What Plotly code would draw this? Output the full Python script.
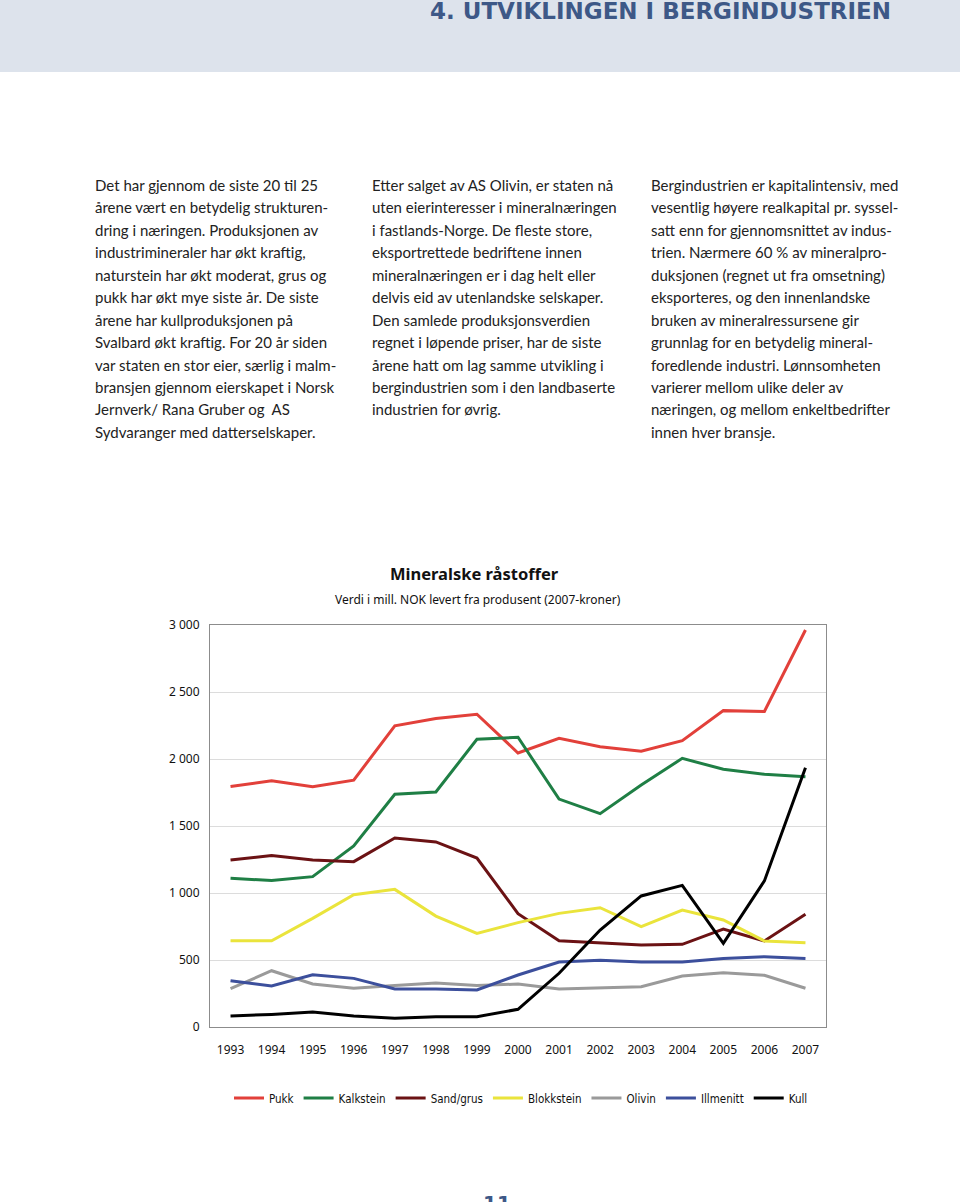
import plotly.graph_objects as go

W, H = 960, 1202

years = [str(y) for y in range(1993, 2008)]
pukk = [1795, 1838, 1793, 1842, 2248, 2303, 2334, 2045, 2155, 2092, 2058, 2137, 2361, 2355, 2963]
kalkstein = [1110, 1093, 1122, 1351, 1737, 1754, 2147, 2162, 1701, 1592, 1806, 2005, 1923, 1886, 1868]
sand_grus = [1246, 1279, 1246, 1234, 1410, 1381, 1261, 846, 644, 629, 612, 617, 731, 642, 841]
blokkstein = [644, 644, 811, 987, 1027, 828, 699, 779, 848, 890, 749, 873, 799, 642, 629]
olivin = [286, 420, 321, 289, 309, 328, 309, 321, 284, 291, 301, 381, 405, 386, 289]
illmenitt = [346, 306, 390, 363, 284, 284, 276, 388, 485, 498, 485, 485, 512, 525, 512]
kull = [82, 94, 112, 82, 65, 77, 77, 132, 401, 724, 978, 1057, 624, 1090, 1935]

series_names = ["Pukk", "Kalkstein", "Sand/grus", "Blokkstein", "Olivin", "Illmenitt", "Kull"]
series_values = [pukk, kalkstein, sand_grus, blokkstein, olivin, illmenitt, kull]
series_colors = ["#e2403a", "#1f7f45", "#6b1214", "#eae43c", "#9a9a9a", "#3c4f9c", "#000000"]

y_tickvals = [0, 500, 1000, 1500, 2000, 2500, 3000]
y_ticktext = ["0", "500", "1 000", "1 500", "2 000", "2 500", "3 000"]

col1 = [
    "Det har gjennom de siste 20 til 25",
    "årene vært en betydelig strukturen-",
    "dring i næringen. Produksjonen av",
    "industrimineraler har økt kraftig,",
    "naturstein har økt moderat, grus og",
    "pukk har økt mye siste år. De siste",
    "årene har kullproduksjonen på",
    "Svalbard økt kraftig. For 20 år siden",
    "var staten en stor eier, særlig i malm-",
    "bransjen gjennom eierskapet i Norsk",
    "Jernverk/ Rana Gruber og  AS",
    "Sydvaranger med datterselskaper.",
]
col2 = [
    "Etter salget av AS Olivin, er staten nå",
    "uten eierinteresser i mineralnæringen",
    "i fastlands-Norge. De fleste store,",
    "eksportrettede bedriftene innen",
    "mineralnæringen er i dag helt eller",
    "delvis eid av utenlandske selskaper.",
    "Den samlede produksjonsverdien",
    "regnet i løpende priser, har de siste",
    "årene hatt om lag samme utvikling i",
    "bergindustrien som i den landbaserte",
    "industrien for øvrig.",
]
col3 = [
    "Bergindustrien er kapitalintensiv, med",
    "vesentlig høyere realkapital pr. syssel-",
    "satt enn for gjennomsnittet av indus-",
    "trien. Nærmere 60 % av mineralpro-",
    "duksjonen (regnet ut fra omsetning)",
    "eksporteres, og den innenlandske",
    "bruken av mineralressursene gir",
    "grunnlag for en betydelig mineral-",
    "foredlende industri. Lønnsomheten",
    "varierer mellom ulike deler av",
    "næringen, og mellom enkeltbedrifter",
    "innen hver bransje.",
]

def px(x):
    return x / W

def py(y):
    return 1 - y / H

fig = go.Figure()
for name, vals, col in zip(series_names, series_values, series_colors):
    fig.add_trace(go.Scatter(x=years, y=vals, mode="lines", name=name,
                             line=dict(color=col, width=3)))

annotations = []
body_font = dict(family="Lato", size=15, color="#222222")
for x0, lines in [(93, col1), (370, col2), (649, col3)]:
    for i, t in enumerate(lines):
        annotations.append(dict(text=t, x=px(x0), y=py(185 + i * 22.45), xref="paper", yref="paper",
                                xanchor="left", yanchor="middle", showarrow=False, font=body_font))

annotations.append(dict(text="<b>4. UTVIKLINGEN I BERGINDUSTRIEN</b>", x=px(893), y=py(11), xref="paper", yref="paper",
                        xanchor="right", yanchor="middle", showarrow=False,
                        font=dict(family="DejaVu Sans", size=23, color="#3d5887")))
annotations.append(dict(text="<b>Mineralske råstoffer</b>", x=px(474), y=py(573), xref="paper", yref="paper",
                        xanchor="center", yanchor="middle", showarrow=False,
                        font=dict(family="Noto Sans", size=16.5, color="#111111")))
annotations.append(dict(text="Verdi i mill. NOK levert fra produsent (2007-kroner)", x=px(478), y=py(599),
                        xref="paper", yref="paper", xanchor="center", yanchor="middle", showarrow=False,
                        font=dict(family="Noto Sans", size=12, color="#111111")))
annotations.append(dict(text="<b>11</b>", x=px(497), y=py(1189), xref="paper", yref="paper",
                        xanchor="center", yanchor="top", showarrow=False,
                        font=dict(family="DejaVu Sans", size=20, color="#3d5887")))

fig.update_layout(
    width=W, height=H,
    margin=dict(l=0, r=0, t=0, b=0),
    paper_bgcolor="white", plot_bgcolor="white",
    showlegend=True,
    legend=dict(orientation="h", x=(521) / W, y=py(1098), xanchor="center", yanchor="middle",
                font=dict(family="DejaVu Sans Condensed", size=11.5, color="#111111"),
                bgcolor="rgba(0,0,0,0)", itemwidth=30, traceorder="normal"),
    annotations=annotations,
    shapes=[dict(type="rect", xref="paper", yref="paper", x0=0, x1=1, y0=py(72), y1=1,
                 fillcolor="#dde3ec", line=dict(width=0), layer="below")],
    xaxis=dict(domain=[px(210), px(826)], type="category", range=[-0.5, 14.5],
               showgrid=False, showline=True, linecolor="#8c8c8c", linewidth=1, mirror=True,
               ticks="", ticklabelstandoff=12, automargin=False,
               tickfont=dict(family="Noto Sans", size=12, color="#111111")),
    yaxis=dict(domain=[py(1027), py(625)], range=[0, 3000], tickvals=y_tickvals, ticktext=y_ticktext,
               showgrid=True, gridcolor="#dcdcdc", gridwidth=1, zeroline=False,
               showline=True, linecolor="#8c8c8c", linewidth=1, mirror=True,
               ticks="", ticklabelstandoff=7, automargin=False,
               tickfont=dict(family="Noto Sans", size=12, color="#111111")),
)

fig.write_html("out.html", config={"displayModeBar": False},
               post_script="document.body.style.margin='0';document.body.style.overflow='hidden';")
